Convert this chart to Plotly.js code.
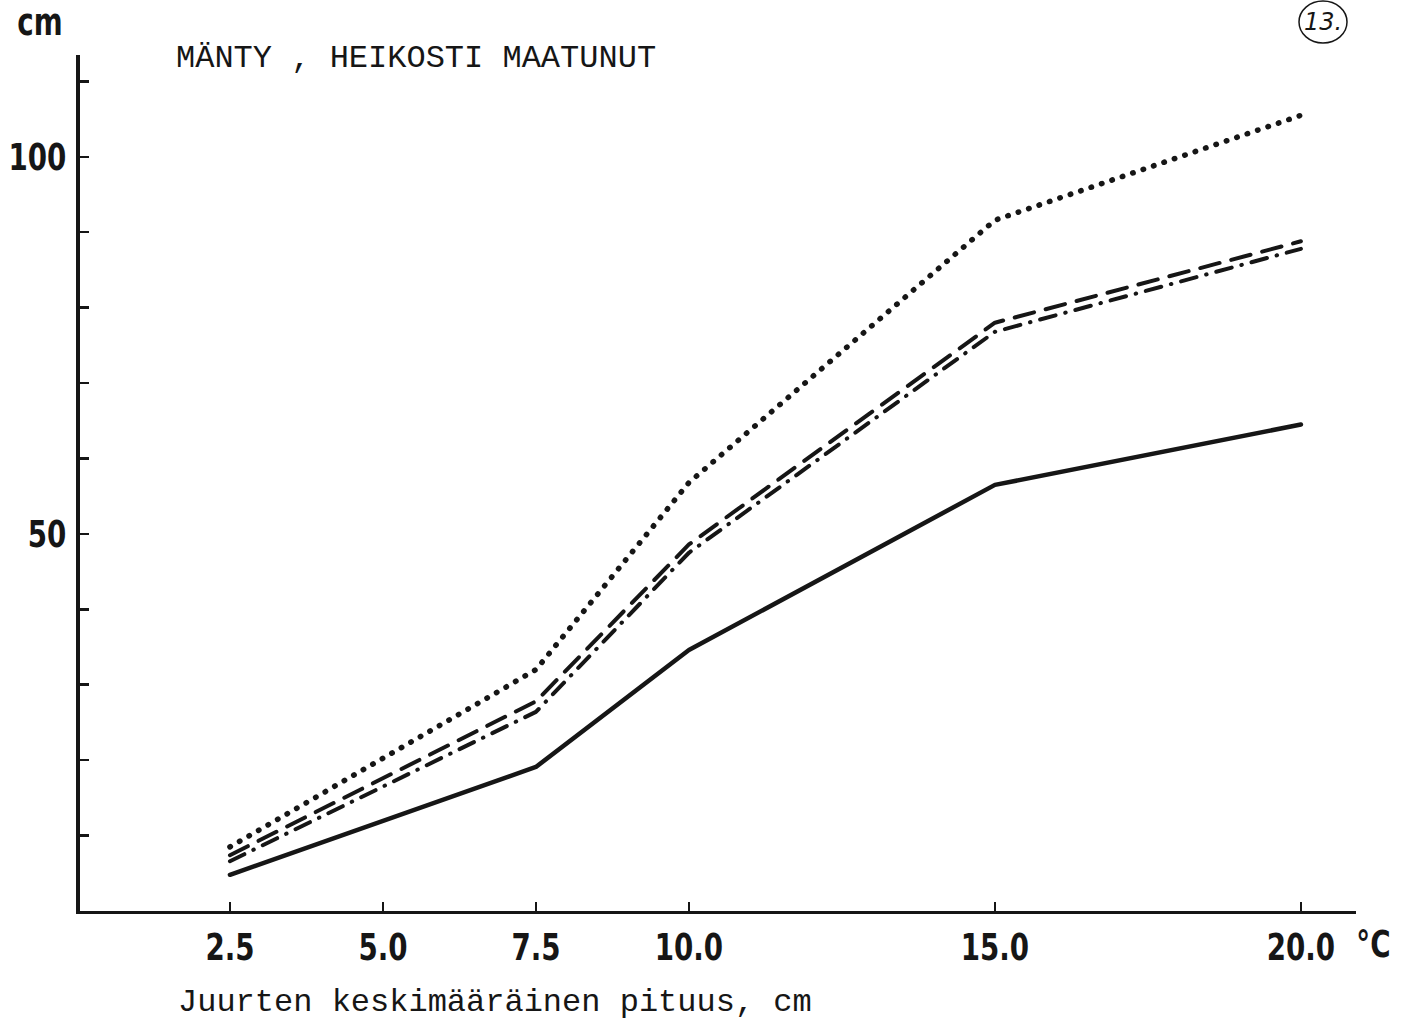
<!DOCTYPE html>
<html>
<head>
<meta charset="utf-8">
<script src="https://cdn.plot.ly/plotly-3.0.1.min.js"></script>
<style>
  html, body { margin: 0; padding: 0; background: #ffffff; }
  #chart { width: 1416px; height: 1023px; }
  /* round pen ends so dotted and dashed curves look hand-plotted */
  .scatterlayer .js-line { stroke-linecap: round; stroke-linejoin: round; }
</style>
</head>
<body>
<div id="chart"></div>
<script>
// Soil temperature classes (°C) on the horizontal axis
const temperatures = [2.5, 7.5, 10.0, 15.0, 20.0];

// Mean root length (cm) for each curve
const solidSeries   = [4.8, 19.1, 34.6, 56.5, 64.5];
const dashdotSeries = [6.6, 26.4, 47.5, 76.8, 87.8];
const dashedSeries  = [7.4, 27.8, 48.6, 78.0, 88.8];
const dottedSeries  = [8.5, 32.0, 56.8, 91.6, 105.5];

// Axis ticks and labels
const xTickVals  = [2.5, 5.0, 7.5, 10.0, 15.0, 20.0];
const xTickText  = ['2.5', '5.0', '7.5', '10.0', '15.0', '20.0'];
const yTickVals  = [10, 20, 30, 40, 50, 60, 70, 80, 90, 100, 110];
const yTickText  = ['', '', '', '', '50', '', '', '', '', '100', ''];

const INK = '#161616';
const BOLD_SANS = 'DejaVu Sans, sans-serif';
const TYPEWRITER = 'Liberation Mono, DejaVu Sans Mono, monospace';

function curve(values, dash, width) {
  return {
    x: temperatures,
    y: values,
    type: 'scatter',
    mode: 'lines',
    line: { color: INK, width: width, dash: dash },
    hoverinfo: 'skip',
    showlegend: false
  };
}

const traces = [
  curve(solidSeries, 'solid', 4.5),
  curve(dashdotSeries, '16px,10px,0.5px,10px', 4),
  curve(dashedSeries, '20px,12px', 4),
  curve(dottedSeries, '0.5px,10.5px', 5.5)
];

const layout = {
  width: 1416,
  height: 1023,
  margin: { l: 80, r: 60, t: 55, b: 112, pad: 0 },
  paper_bgcolor: '#ffffff',
  plot_bgcolor: '#ffffff',
  showlegend: false,
  title: {
    text: 'MÄNTY , HEIKOSTI MAATUNUT',
    xref: 'container', yref: 'container',
    x: 176 / 1416, xanchor: 'left',
    y: 1 - 56 / 1023, yanchor: 'middle',
    font: { family: TYPEWRITER, size: 32, color: INK }
  },
  xaxis: {
    range: [0.05, 20.9],
    showgrid: false,
    zeroline: false,
    showline: true,
    linecolor: INK,
    linewidth: 3,
    ticks: 'inside',
    ticklen: 9,
    tickwidth: 2,
    tickcolor: INK,
    tickmode: 'array',
    tickvals: xTickVals,
    ticktext: xTickText,
    ticklabelstandoff: 0,
    tickfont: { family: BOLD_SANS, size: 38, color: INK, weight: 700 },
    fixedrange: true
  },
  yaxis: {
    range: [0, 113.5],
    showgrid: false,
    zeroline: false,
    showline: true,
    linecolor: INK,
    linewidth: 4,
    ticks: 'inside',
    ticklen: 9,
    tickwidth: 2.5,
    tickcolor: INK,
    tickmode: 'array',
    tickvals: yTickVals,
    ticktext: yTickText,
    ticklabelstandoff: 2,
    tickfont: { family: BOLD_SANS, size: 38, color: INK, weight: 700 },
    fixedrange: true
  },
  annotations: [
    {
      text: 'cm',
      xref: 'paper', yref: 'paper',
      x: (40 - 80) / 1276, y: (911 - 22) / 856,
      xanchor: 'center', yanchor: 'middle',
      showarrow: false,
      font: { family: BOLD_SANS, size: 38, color: INK, weight: 700 }
    },
    {
      text: '°C',
      xref: 'paper', yref: 'paper',
      x: (1373 - 80) / 1276, y: (911 - 944) / 856,
      xanchor: 'center', yanchor: 'middle',
      showarrow: false,
      font: { family: BOLD_SANS, size: 38, color: INK, weight: 700 }
    },
    {
      text: 'Juurten keskimääräinen pituus, cm',
      xref: 'paper', yref: 'paper',
      x: (176 - 80) / 1276, y: (911 - 1002) / 856,
      xanchor: 'left', yanchor: 'middle',
      showarrow: false,
      font: { family: TYPEWRITER, size: 32, color: INK }
    },
    {
      text: '<i>13.</i>',
      xref: 'paper', yref: 'paper',
      x: (1323 - 80) / 1276, y: (911 - 22) / 856,
      xanchor: 'center', yanchor: 'middle',
      showarrow: false,
      font: { family: 'DejaVu Sans, sans-serif', size: 24, color: INK }
    }
  ],
  shapes: [
    {
      type: 'circle',
      xref: 'paper', yref: 'paper',
      x0: (1299 - 80) / 1276, x1: (1347 - 80) / 1276,
      y0: (911 - 43) / 856, y1: (911 - 1) / 856,
      line: { color: INK, width: 1.5 }
    }
  ]
};

// Squeeze the bold numerals into a narrow, condensed face
function condenseLabels(gd) {
  const nodes = gd.querySelectorAll(
    '.xtick text, .ytick text, .annotation[data-index="0"] text, .annotation[data-index="1"] text'
  );
  nodes.forEach(function (t) {
    const w = t.getComputedTextLength();
    if (w > 0) {
      t.setAttribute('textLength', (w * 0.73).toFixed(1));
      t.setAttribute('lengthAdjust', 'spacingAndGlyphs');
    }
  });
}

Plotly.newPlot('chart', traces, layout, { staticPlot: true, displayModeBar: false })
  .then(condenseLabels);
</script>
</body>
</html>
